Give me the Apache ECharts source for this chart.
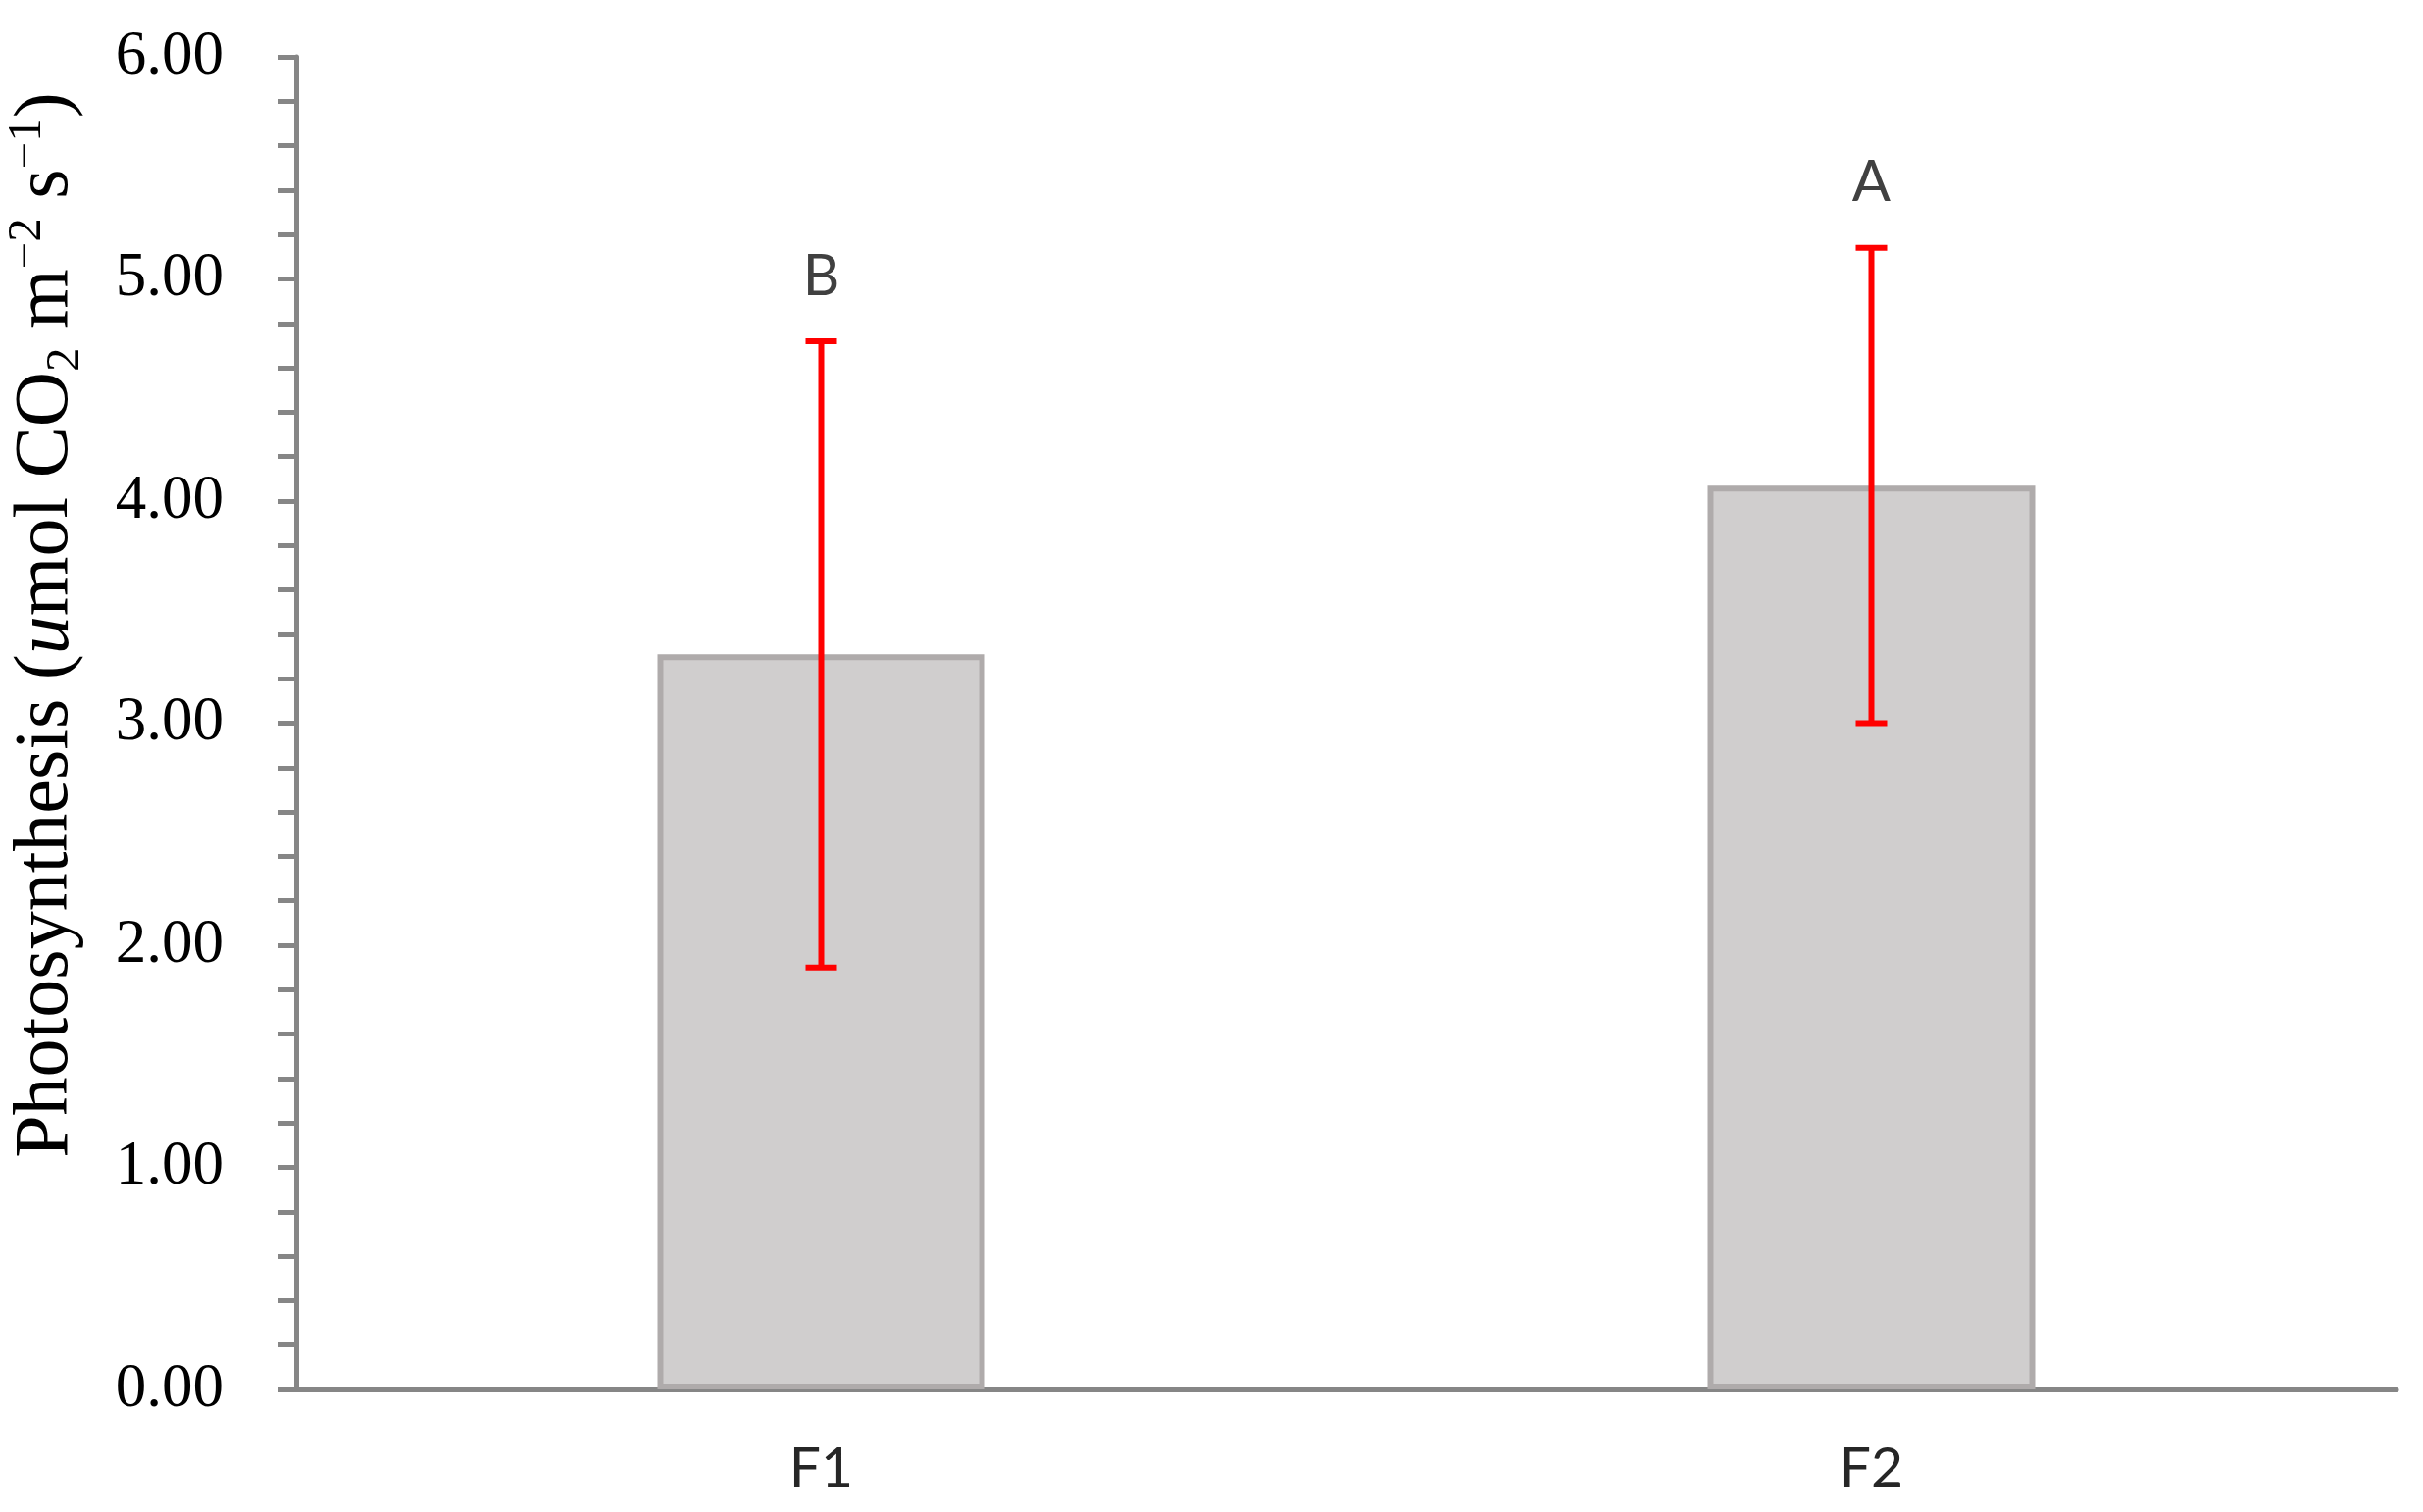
<!DOCTYPE html>
<html>
<head>
<meta charset="utf-8">
<script src="https://cdn.jsdelivr.net/npm/echarts@6/dist/echarts.min.js"></script>
<style>
html,body{margin:0;padding:0;background:#fff;}
#chart{width:2471px;height:1542px;}
</style>
</head>
<body>
<div id="chart"></div>
<script>
const categories = ['F1', 'F2'];
const means = [3.31, 4.07];
const errors = [1.41, 1.07];
const letters = ['B', 'A'];
const yTicks = [0, 1, 2, 3, 4, 5, 6];

const errData = categories.map((c, i) => [i, means[i] - errors[i], means[i] + errors[i]]);

const chart = echarts.init(document.getElementById('chart'), null, {renderer: 'canvas'});
const serif = '"Liberation Serif", "DejaVu Serif", serif';
const sans = 'Lato, "Open Sans", sans-serif';

const option = {
  backgroundColor: '#ffffff',
  animation: false,
  grid: {left: 302, right: 27, top: 58, bottom: 125, containLabel: false, outerBoundsMode: 'none'},
  xAxis: {
    type: 'category',
    data: categories,
    axisLine: {lineStyle: {color: '#868686', width: 5}},
    axisTick: {show: false},
    axisLabel: {color: '#262626', fontFamily: sans, fontSize: 57, margin: 52}
  },
  yAxis: {
    type: 'value',
    min: yTicks[0],
    max: yTicks[yTicks.length - 1],
    interval: 1,
    axisLine: {show: true, lineStyle: {color: '#868686', width: 5}},
    axisTick: {show: true, length: 18, lineStyle: {color: '#868686', width: 5}},
    minorTick: {show: true, splitNumber: 5, length: 18, lineStyle: {color: '#868686', width: 5}},
    splitLine: {show: false},
    axisLabel: {
      color: '#000000', fontFamily: serif, fontSize: 63, margin: 74,
      formatter: v => v.toFixed(2)
    },
    name: 'Photosynthesis ({it|u}mol CO{sub|2} m{sup|−2} s{sup|−1})',
    nameLocation: 'middle',
    nameGap: 210,
    nameTextStyle: {
      color: '#000000', fontFamily: serif, fontSize: 78, lineHeight: 88,
      padding: [0, 0, 0, 200],
      rich: {
        it: {color: '#000000', fontFamily: serif, fontSize: 78, fontStyle: 'italic', lineHeight: 88},
        sub: {color: '#000000', fontFamily: serif, fontSize: 49, lineHeight: 49, verticalAlign: 'bottom'},
        sup: {color: '#000000', fontFamily: serif, fontSize: 49, lineHeight: 64, verticalAlign: 'top'}
      }
    }
  },
  series: [
    {
      type: 'bar',
      data: means,
      barWidth: 334,
      itemStyle: {color: '#d0cece', borderColor: '#afabab', borderWidth: 6}
    },
    {
      type: 'custom',
      data: errData,
      z: 10,
      renderItem: function (params, api) {
        const x = api.value(0);
        const pLo = api.coord([x, api.value(1)]);
        const pHi = api.coord([x, api.value(2)]);
        const hw = 16;
        const st = {stroke: '#ff0000', lineWidth: 6};
        return {
          type: 'group',
          children: [
            {type: 'line', shape: {x1: pHi[0], y1: pHi[1], x2: pLo[0], y2: pLo[1]}, style: st},
            {type: 'line', shape: {x1: pHi[0] - hw, y1: pHi[1], x2: pHi[0] + hw, y2: pHi[1]}, style: st},
            {type: 'line', shape: {x1: pLo[0] - hw, y1: pLo[1], x2: pLo[0] + hw, y2: pLo[1]}, style: st},
            {type: 'text', x: pHi[0], y: pHi[1] - 66,
             style: {text: letters[params.dataIndex], fill: '#404040', fontFamily: sans, fontSize: 58,
                     align: 'center', verticalAlign: 'middle'}}
          ]
        };
      }
    }
  ]
};
chart.setOption(option);
</script>
</body>
</html>
